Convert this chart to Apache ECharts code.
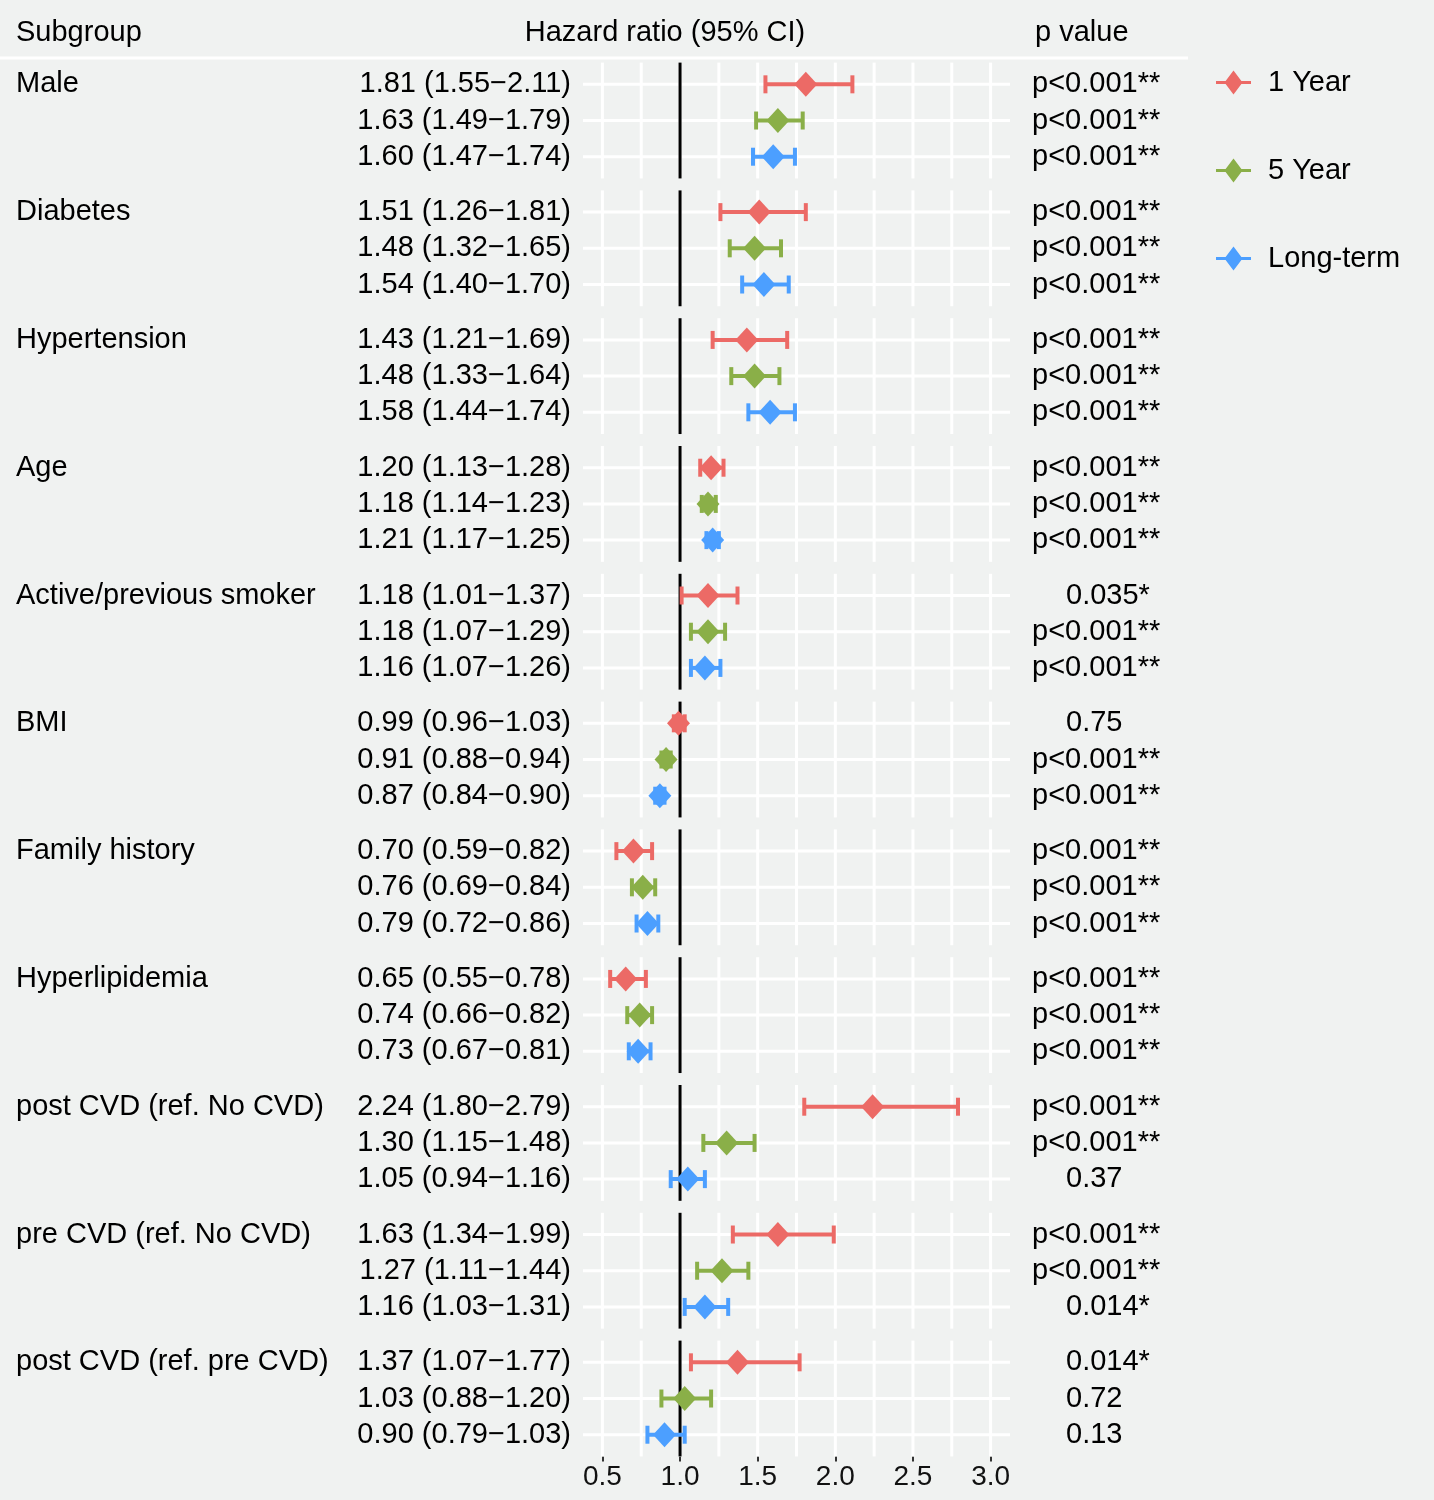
<!DOCTYPE html>
<html><head><meta charset="utf-8">
<script src="https://cdn.jsdelivr.net/npm/echarts@6/dist/echarts.min.js"></script>
<style>html,body{margin:0;padding:0;background:#F0F2F1}#c{width:1434px;height:1500px}</style>
</head><body><div id="c"></div><script>
// ---------- DATA ----------
const subgroups = ['Male','Diabetes','Hypertension','Age','Active/previous smoker','BMI','Family history','Hyperlipidemia','post CVD (ref. No CVD)','pre CVD (ref. No CVD)','post CVD (ref. pre CVD)'];
const cohorts = ['1 Year','5 Year','Long-term'];
const hr1Y = [1.81,1.51,1.43,1.20,1.18,0.99,0.70,0.65,2.24,1.63,1.37];
const lo1Y = [1.55,1.26,1.21,1.13,1.01,0.96,0.59,0.55,1.80,1.34,1.07];
const hi1Y = [2.11,1.81,1.69,1.28,1.37,1.03,0.82,0.78,2.79,1.99,1.77];
const p1Y  = ['p<0.001**','p<0.001**','p<0.001**','p<0.001**','0.035*','0.75','p<0.001**','p<0.001**','p<0.001**','p<0.001**','0.014*'];
const hr5Y = [1.63,1.48,1.48,1.18,1.18,0.91,0.76,0.74,1.30,1.27,1.03];
const lo5Y = [1.49,1.32,1.33,1.14,1.07,0.88,0.69,0.66,1.15,1.11,0.88];
const hi5Y = [1.79,1.65,1.64,1.23,1.29,0.94,0.84,0.82,1.48,1.44,1.20];
const p5Y  = ['p<0.001**','p<0.001**','p<0.001**','p<0.001**','p<0.001**','p<0.001**','p<0.001**','p<0.001**','p<0.001**','p<0.001**','0.72'];
const hrLT = [1.60,1.54,1.58,1.21,1.16,0.87,0.79,0.73,1.05,1.16,0.90];
const loLT = [1.47,1.40,1.44,1.17,1.07,0.84,0.72,0.67,0.94,1.03,0.79];
const hiLT = [1.74,1.70,1.74,1.25,1.26,0.90,0.86,0.81,1.16,1.31,1.03];
const pLT  = ['p<0.001**','p<0.001**','p<0.001**','p<0.001**','p<0.001**','p<0.001**','p<0.001**','p<0.001**','0.37','0.014*','0.13'];
const xTickValues = [0.5,1.0,1.5,2.0,2.5,3.0];
const xGridValues = [0.5,0.75,1.0,1.25,1.5,1.75,2.0,2.25,2.5,2.75,3.0];
const refValue = 1.0;
const rows = [1,2,3];

// ---------- STYLE / LAYOUT ----------
const colors = ['#EC6A66','#8AAF48','#4C9FFF'];
const FONT = '"Liberation Sans", Arial, Helvetica, sans-serif';
const FS = 29;
const PLOT_LEFT = 583, PLOT_W = 427;
const ROW = 36.2, PANEL_H = ROW*3.2, PITCH = 127.8, TOP0 = 62.6;
const hrs = [hr1Y, hr5Y, hrLT], los = [lo1Y, lo5Y, loLT], his = [hi1Y, hi5Y, hiLT], ps = [p1Y, p5Y, pLT];
const fmt = v => v.toFixed(2);

const grids = [], xAxes = [], yAxes = [], series = [];
const N = subgroups.length;
for (let i = 0; i < N; i++) {
  const last = i === N - 1;
  grids.push({left: PLOT_LEFT, width: PLOT_W, top: TOP0 + PITCH*i, height: PANEL_H, containLabel: false});
  xAxes.push({
    type: 'value', gridIndex: i, min: 0.375, max: 3.125,
    axisLine: {show: false}, splitLine: {show: false},
    axisTick: {show: last, length: 5, lineStyle: {color: '#333', width: 2}, customValues: xTickValues},
    axisLabel: {show: last, customValues: xTickValues, formatter: v => v.toFixed(1), fontSize: FS - 1, fontFamily: FONT, color: '#111', margin: 7}
  });
  yAxes.push({
    type: 'value', gridIndex: i, inverse: true, min: 0.4, max: 3.6, position: 'left',
    axisLine: {show: false}, splitLine: {show: false}, axisTick: {show: false},
    axisLabel: {customValues: rows, margin: 12, fontSize: FS, fontFamily: FONT, color: '#000',
      formatter: v => { const c = Math.round(v) - 1; return fmt(hrs[c][i]) + ' (' + fmt(los[c][i]) + '\u2212' + fmt(his[c][i]) + ')'; }}
  });
  yAxes.push({
    type: 'value', gridIndex: i, inverse: true, min: 0.4, max: 3.6, position: 'right',
    axisLine: {show: false}, splitLine: {show: false}, axisTick: {show: false},
    axisLabel: {customValues: rows, margin: 22, fontSize: FS, fontFamily: FONT, color: '#000',
      formatter: v => { const c = Math.round(v) - 1; const p = ps[c][i]; return p.startsWith('p<') ? '{a|' + p + '}' : '{b|' + p + '}'; },
      rich: {a: {fontSize: FS, fontFamily: FONT, color: '#000'}, b: {fontSize: FS, fontFamily: FONT, color: '#000', padding: [0,0,0,34]}}}
  });
  // panel grid lines + reference line
  series.push({
    type: 'custom', xAxisIndex: i, yAxisIndex: 2*i, z: 1, silent: true,
    data: [[refValue, 2]],
    renderItem: (params, api) => {
      const ch = [];
      xGridValues.forEach(v => {
        const a = api.coord([v, 0.4]), b = api.coord([v, 3.6]);
        ch.push({type: 'line', shape: {x1: a[0], y1: a[1], x2: b[0], y2: b[1]}, style: {stroke: '#FFFFFF', lineWidth: 3}});
      });
      rows.forEach(r => {
        const a = api.coord([0.375, r]), b = api.coord([3.125, r]);
        ch.push({type: 'line', shape: {x1: a[0], y1: a[1], x2: b[0], y2: b[1]}, style: {stroke: '#FFFFFF', lineWidth: 3}});
      });
      const a = api.coord([refValue, 0.4]), b = api.coord([refValue, 3.6]);
      ch.push({type: 'line', shape: {x1: a[0], y1: a[1], x2: b[0], y2: b[1]}, style: {stroke: '#000000', lineWidth: 3}});
      return {type: 'group', children: ch};
    }
  });
  for (let c = 0; c < 3; c++) {
    series.push({
      type: 'custom', name: cohorts[c], xAxisIndex: i, yAxisIndex: 2*i, z: 3,
      itemStyle: {color: colors[c]},
      data: [[hrs[c][i], los[c][i], his[c][i], rows[c]]],
      renderItem: (params, api) => {
        const y = api.value(3);
        const pc = api.coord([api.value(0), y]);
        const pl = api.coord([api.value(1), y]);
        const ph = api.coord([api.value(2), y]);
        const col = api.visual('color');
        const cap = 9, dw = 11.5, dh = 12.5, lw = 4;
        return {type: 'group', children: [
          {type: 'line', shape: {x1: pl[0], y1: pc[1], x2: ph[0], y2: pc[1]}, style: {stroke: col, lineWidth: lw}},
          {type: 'line', shape: {x1: pl[0], y1: pc[1]-cap, x2: pl[0], y2: pc[1]+cap}, style: {stroke: col, lineWidth: lw}},
          {type: 'line', shape: {x1: ph[0], y1: pc[1]-cap, x2: ph[0], y2: pc[1]+cap}, style: {stroke: col, lineWidth: lw}},
          {type: 'polygon', shape: {points: [[pc[0]-dw, pc[1]], [pc[0], pc[1]-dh], [pc[0]+dw, pc[1]], [pc[0], pc[1]+dh]]}, style: {fill: col}}
        ]};
      }
    });
  }
}

const chart = echarts.init(document.getElementById('c'), null, {renderer: 'canvas'});
chart.setOption({
  backgroundColor: '#F0F2F1',
  animation: false,
  textStyle: {fontFamily: FONT},
  grid: grids, xAxis: xAxes, yAxis: yAxes, series: series,
  legend: {
    data: cohorts, orient: 'vertical', left: 1216, top: 68, padding: 0,
    itemWidth: 35, itemHeight: 24, itemGap: 59,
    icon: 'path://M0,10.5 L9.6,10.5 L17.5,0 L25.4,10.5 L35,10.5 L35,13.5 L25.4,13.5 L17.5,24 L9.6,13.5 L0,13.5 Z',
    textStyle: {fontSize: FS, fontFamily: FONT, color: '#000', padding: [0,0,0,12]}
  }
});

// text elements positioned from the panel scales
const graphics = [
  {type: 'line', shape: {x1: 0, y1: 58, x2: 1188, y2: 58}, style: {stroke: '#FFFFFF', lineWidth: 3}},
  {type: 'text', x: 16, y: 33, style: {text: 'Subgroup', font: FS + 'px ' + FONT, fill: '#000', verticalAlign: 'middle'}},
  {type: 'text', x: 665, y: 33, style: {text: 'Hazard ratio (95% CI)', font: FS + 'px ' + FONT, fill: '#000', align: 'center', verticalAlign: 'middle'}},
  {type: 'text', x: 1035, y: 33, style: {text: 'p value', font: FS + 'px ' + FONT, fill: '#000', verticalAlign: 'middle'}}
];
subgroups.forEach((s, i) => {
  const pt = chart.convertToPixel({gridIndex: i}, [1, rows[0]]);
  graphics.push({type: 'text', x: 16, y: pt[1], style: {text: s, font: FS + 'px ' + FONT, fill: '#000', verticalAlign: 'middle'}});
});
chart.setOption({graphic: graphics});
</script></body></html>
